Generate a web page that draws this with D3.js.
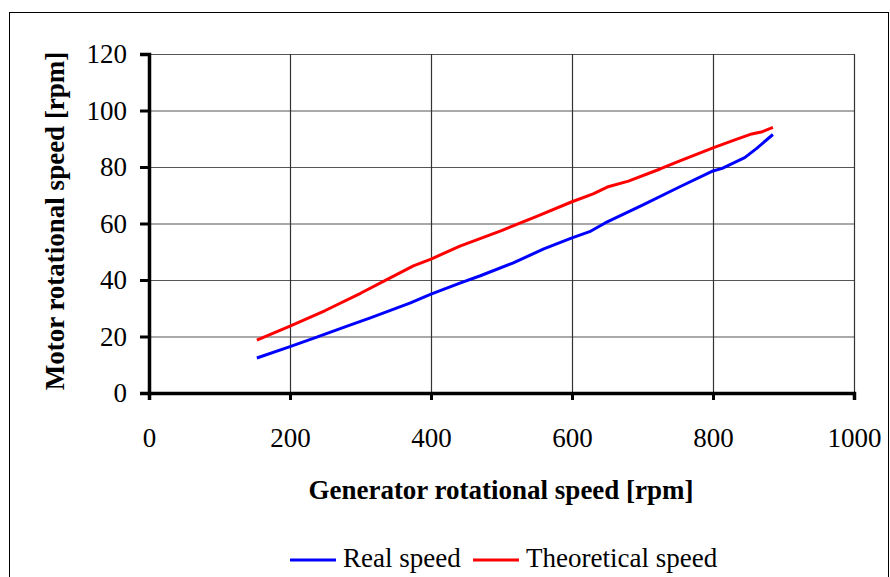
<!DOCTYPE html>
<html>
<head>
<meta charset="utf-8">
<script src="https://cdn.jsdelivr.net/npm/d3@7"></script>
<style>
  body { margin: 0; background: #fff; }
  text { font-family: "Liberation Serif", "Times New Roman", serif; }
</style>
</head>
<body>
<div id="wrapper"></div>
<script>
// generator speed [rpm] -> motor speed [rpm]
const realSpeed = [
  [153, 12.4], [200, 16.4], [238, 19.8], [281, 23.7], [313, 26.5], [370, 31.8],
  [400, 35], [441, 38.9], [470, 41.5], [516, 46], [560, 51], [600, 54.9],
  [625, 57.1], [647, 60.2], [700, 66.5], [753, 73], [800, 78.6], [813, 79.5],
  [845, 83.3], [862, 86.6], [885, 91.5]
]
const theoreticalSpeed = [
  [153, 18.7], [200, 23.7], [250, 29.2], [300, 35.3], [338, 40.2], [375, 45],
  [400, 47.4], [441, 52], [500, 57.5], [550, 62.5], [600, 67.7], [630, 70.5],
  [650, 72.9], [680, 75], [725, 79.3], [753, 82.2], [800, 86.8], [830, 89.5],
  [855, 91.7], [870, 92.5], [885, 94]
]
const xTicks = [0, 200, 400, 600, 800, 1000]
const yTicks = [0, 20, 40, 60, 80, 100, 120]
const seriesNames = ["Real speed", "Theoretical speed"]
const seriesColors = ["#0000ff", "#ff0000"]

const dimensions = {
  width: 890,
  height: 577,
  margin: { top: 54, right: 36, bottom: 184, left: 149 },
}
dimensions.boundedWidth = dimensions.width - dimensions.margin.left - dimensions.margin.right
dimensions.boundedHeight = dimensions.height - dimensions.margin.top - dimensions.margin.bottom

const wrapper = d3.select("#wrapper")
  .append("svg")
  .attr("width", dimensions.width)
  .attr("height", dimensions.height)

// outer chart frame
wrapper.append("rect")
  .attr("x", 9.5).attr("y", 12.5)
  .attr("width", 879).attr("height", 600)
  .attr("fill", "none").attr("stroke", "#000").attr("stroke-width", 1)

const bounds = wrapper.append("g")
  .attr("transform", `translate(${dimensions.margin.left}, ${dimensions.margin.top})`)

const xScale = d3.scaleLinear().domain([0, 1000]).range([0, dimensions.boundedWidth])
const yScale = d3.scaleLinear().domain([0, 120]).range([dimensions.boundedHeight, 0])

// gridlines
bounds.append("g")
  .selectAll("line")
  .data(yTicks.filter(d => d > 0))
  .join("line")
  .attr("x1", 0).attr("x2", dimensions.boundedWidth)
  .attr("y1", d => yScale(d) + 0.5).attr("y2", d => yScale(d) + 0.5)
  .attr("stroke", "#555").attr("stroke-width", 1.2)

bounds.append("g")
  .selectAll("line")
  .data(xTicks.filter(d => d > 0))
  .join("line")
  .attr("x1", d => xScale(d) + 0.5).attr("x2", d => xScale(d) + 0.5)
  .attr("y1", 0).attr("y2", dimensions.boundedHeight)
  .attr("stroke", "#333").attr("stroke-width", 1.2)

// axes
const xAxis = bounds.append("g")
  .attr("transform", `translate(0, ${dimensions.boundedHeight})`)
  .call(d3.axisBottom(xScale).tickValues(xTicks).tickFormat(d3.format("d")).tickSize(7).tickPadding(28))
const yAxis = bounds.append("g")
  .call(d3.axisLeft(yScale).tickValues(yTicks).tickFormat(d3.format("d")).tickSize(9).tickPadding(13))

;[xAxis, yAxis].forEach(ax => {
  ax.select(".domain").attr("stroke", "#000").attr("stroke-width", 3.5)
  ax.selectAll(".tick line").attr("stroke", "#000").attr("stroke-width", 3)
  ax.selectAll(".tick text")
    .attr("fill", "#000")
    .style("font-family", '"Liberation Serif", serif')
    .style("font-size", "27px")
})

// lines
const lineGen = d3.line()
  .x(d => xScale(d[0]))
  .y(d => yScale(d[1]))

;[realSpeed, theoreticalSpeed].forEach((series, i) => {
  bounds.append("path")
    .datum(series)
    .attr("d", lineGen)
    .attr("fill", "none")
    .attr("stroke", seriesColors[i])
    .attr("stroke-width", 3)
    .attr("stroke-linejoin", "round")
})

// axis titles
wrapper.append("text")
  .attr("x", 501).attr("y", 499)
  .attr("text-anchor", "middle")
  .style("font-size", "27px").style("font-weight", "bold")
  .text("Generator rotational speed [rpm]")

wrapper.append("text")
  .attr("transform", "translate(64, 221) rotate(-90)")
  .attr("text-anchor", "middle")
  .style("font-size", "27px").style("font-weight", "bold")
  .text("Motor rotational speed [rpm]")

// legend
const legendX = [290, 473]
const legend = wrapper.append("g")
seriesNames.forEach((name, i) => {
  legend.append("line")
    .attr("x1", legendX[i]).attr("x2", legendX[i] + 46)
    .attr("y1", 560).attr("y2", 560)
    .attr("stroke", seriesColors[i]).attr("stroke-width", 3)
  legend.append("text")
    .attr("x", legendX[i] + 53).attr("y", 567)
    .style("font-size", "27px")
    .text(name)
})
</script>
</body>
</html>
